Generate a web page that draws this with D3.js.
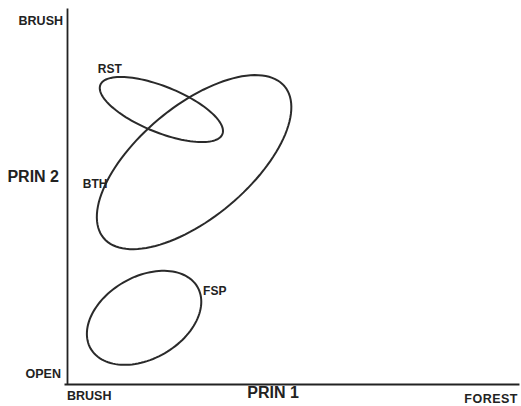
<!DOCTYPE html>
<html>
<head>
<meta charset="utf-8">
<script src="https://cdn.jsdelivr.net/npm/d3@7"></script>
<style>
  html, body { margin: 0; padding: 0; background: #fff; }
  svg { display: block; }
  text { font-family: "Liberation Sans", Arial, Helvetica, sans-serif; font-weight: bold; fill: #222; }
</style>
</head>
<body>
<svg id="chart" width="521" height="406"></svg>
<script>
// ---- data ----
const categories = ["RST", "BTH", "FSP"];
// ellipse parameters in PRIN-score units (isotropic)
const centerX = [2.51, 3.38, 2.05];
const centerY = [7.30, 5.90, 1.76];
const semiMajor = [1.75, 3.14, 1.64];
const semiMinor = [0.61, 1.48, 1.09];
const angleDeg = [-22, 40, 30];
const xTickLabels = ["BRUSH", "FOREST"];
const yTickLabels = ["OPEN", "BRUSH"];
const xTitle = "PRIN 1";
const yTitle = "PRIN 2";

// ---- layout ----
const svg = d3.select("#chart");
const unit = 37.6;
const x0 = 67, y0 = 384;
const x = d3.scaleLinear().domain([0, 12.1]).range([x0, x0 + 12.1 * unit]);
const y = d3.scaleLinear().domain([0, 10]).range([y0, y0 - 10 * unit]);

// axes (domain lines only)
const yAxis = d3.axisLeft(y).tickValues([]).tickSizeOuter(0);
const xAxis = d3.axisBottom(x).tickValues([]).tickSizeOuter(0);
svg.append("g").attr("transform", `translate(${x0},0)`).call(yAxis)
  .select(".domain").attr("stroke", "#222").attr("stroke-width", 1.8);
svg.append("g").attr("transform", `translate(-3,${y0})`).call(xAxis)
  .select(".domain").attr("stroke", "#222").attr("stroke-width", 1.8);

// ellipses
const line = d3.line().curve(d3.curveLinearClosed);
categories.forEach((c, i) => {
  const phi = angleDeg[i] * Math.PI / 180;
  const pts = d3.range(0, 360, 3).map(t => {
    const r = t * Math.PI / 180;
    const u = semiMajor[i] * Math.cos(r), v = semiMinor[i] * Math.sin(r);
    return [x(centerX[i] + u * Math.cos(phi) - v * Math.sin(phi)),
            y(centerY[i] + u * Math.sin(phi) + v * Math.cos(phi))];
  });
  svg.append("path").attr("d", line(pts))
    .attr("fill", "none").attr("stroke", "#2a2a2a").attr("stroke-width", 2);
});

// group labels (positions in data units)
const labelPos = { RST: [0.82, 8.27], BTH: [0.42, 5.21], FSP: [3.62, 2.37] };
categories.forEach(c => {
  svg.append("text").attr("x", x(labelPos[c][0])).attr("y", y(labelPos[c][1]))
    .attr("font-size", 12).text(c);
});

// tick labels
svg.append("text").attr("x", x0 - 6).attr("y", y(0) - 6).attr("text-anchor", "end")
  .attr("font-size", 12.5).text(yTickLabels[0]);
svg.append("text").attr("x", x0 - 4).attr("y", y(9.55)).attr("text-anchor", "end")
  .attr("font-size", 12.5).text(yTickLabels[1]);
svg.append("text").attr("x", x(0)).attr("y", 400)
  .attr("font-size", 12.5).text(xTickLabels[0]);
svg.append("text").attr("x", 518).attr("y", 403).attr("text-anchor", "end")
  .attr("font-size", 12.5).attr("letter-spacing", 0.5).text(xTickLabels[1]);

// axis titles
svg.append("text").attr("x", 273).attr("y", 398).attr("text-anchor", "middle")
  .attr("font-size", 16).text(xTitle);
svg.append("text").attr("x", 59).attr("y", 182).attr("text-anchor", "end")
  .attr("font-size", 16).text(yTitle);
</script>
</body>
</html>
